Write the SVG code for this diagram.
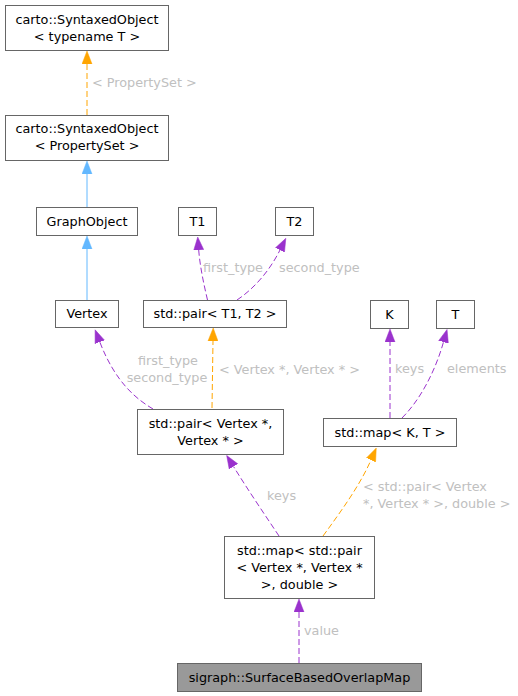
<svg xmlns="http://www.w3.org/2000/svg" width="518" height="696" viewBox="0 0 518 696">
<style>
.box{fill:#ffffff;stroke:#666666;stroke-width:1}
.cur{fill:#999999;stroke:#666666;stroke-width:1}
text{font-family:"DejaVu Sans",sans-serif;font-size:12.8px;fill:#000000}
.lbl{fill:#c0c0c0}
.mid{text-anchor:middle}
.e{fill:none;stroke-width:1}
.pu{stroke:#9a32cd;stroke-dasharray:6,3}
.or{stroke:#ffa500;stroke-dasharray:6,3}
.bl{stroke:#63b8ff}
</style>
<defs>
<marker id="aPu" markerUnits="userSpaceOnUse" markerWidth="14" markerHeight="11" refX="0" refY="5.5" orient="auto" viewBox="0 0 14 11"><path d="M0,0.5 L13,5.5 L0,10.5 Z" fill="#9a32cd" stroke="#9a32cd" stroke-width="0.5"/></marker>
<marker id="aOr" markerUnits="userSpaceOnUse" markerWidth="14" markerHeight="11" refX="0" refY="5.5" orient="auto" viewBox="0 0 14 11"><path d="M0,0.5 L13,5.5 L0,10.5 Z" fill="#ffa500" stroke="#ffa500" stroke-width="0.5"/></marker>
<marker id="aBl" markerUnits="userSpaceOnUse" markerWidth="14" markerHeight="11" refX="0" refY="5.5" orient="auto" viewBox="0 0 14 11"><path d="M0,0.5 L13,5.5 L0,10.5 Z" fill="#63b8ff" stroke="#63b8ff" stroke-width="0.5"/></marker>
</defs>
<g id="edges">
<path class="e or" d="M87,115 L87,64" marker-end="url(#aOr)"/>
<text class="lbl" x="92" y="86.5">&lt; PropertySet &gt;</text>
<path class="e bl" d="M87,207 L87,174" marker-end="url(#aBl)"/>
<path class="e bl" d="M87,300 L87,249" marker-end="url(#aBl)"/>
<path class="e pu" d="M207.5,300 C204,285 200,267 198.7,250" marker-end="url(#aPu)"/>
<text class="lbl" x="203" y="272">first_type</text>
<path class="e pu" d="M237,300 C255,288 270,270 280,250" marker-end="url(#aPu)"/>
<text class="lbl" x="279" y="272">second_type</text>
<path class="e pu" d="M153,409 C138,400 116,384 99.8,342" marker-end="url(#aPu)"/>
<text class="lbl mid" x="168" y="365">first_type</text>
<text class="lbl mid" x="167" y="382">second_type</text>
<path class="e or" d="M212,408 L213,341" marker-end="url(#aOr)"/>
<text class="lbl" x="219" y="373.5">&lt; Vertex *, Vertex * &gt;</text>
<path class="e pu" d="M390,418 L390,342" marker-end="url(#aPu)"/>
<text class="lbl" x="395" y="373">keys</text>
<path class="e pu" d="M402,418 C420,400 435,372 443.5,342" marker-end="url(#aPu)"/>
<text class="lbl" x="447" y="373">elements</text>
<path class="e pu" d="M279,536 C265,515 248,490 233.5,466.5" marker-end="url(#aPu)"/>
<text class="lbl" x="267" y="500">keys</text>
<path class="e or" d="M323,536 C342,510 360,485 371,460" marker-end="url(#aOr)"/>
<text class="lbl" x="363" y="491">&lt; std::pair&lt; Vertex</text>
<text class="lbl" x="363" y="508">*, Vertex * &gt;, double &gt;</text>
<path class="e pu" d="M299,663 L299,612" marker-end="url(#aPu)"/>
<text class="lbl" x="304" y="635">value</text>
</g>
<g id="node_syntaxedT">
<rect class="box" x="5.5" y="5.5" width="163" height="45"/>
<text class="mid" x="87" y="23.5">carto::SyntaxedObject</text>
<text class="mid" x="87" y="40.5">&lt; typename T &gt;</text>
</g>
<g id="node_syntaxedPS">
<rect class="box" x="5.5" y="115.5" width="163" height="45"/>
<text class="mid" x="87" y="133">carto::SyntaxedObject</text>
<text class="mid" x="87" y="150">&lt; PropertySet &gt;</text>
</g>
<g id="node_graphobject">
<rect class="box" x="36.5" y="207.5" width="101" height="28"/>
<text class="mid" x="87" y="225.5">GraphObject</text>
</g>
<g id="node_vertex">
<rect class="box" x="55.5" y="300.5" width="63" height="27"/>
<text class="mid" x="87" y="318">Vertex</text>
</g>
<g id="node_T1">
<rect class="box" x="178.5" y="207.5" width="38" height="28"/>
<text class="mid" x="197.5" y="225.5">T1</text>
</g>
<g id="node_T2">
<rect class="box" x="275.5" y="207.5" width="38" height="28"/>
<text class="mid" x="294.5" y="225.5">T2</text>
</g>
<g id="node_pairT">
<rect class="box" x="143.5" y="300.5" width="143" height="27"/>
<text class="mid" x="215" y="318">std::pair&lt; T1, T2 &gt;</text>
</g>
<g id="node_K">
<rect class="box" x="370.5" y="300.5" width="38" height="28"/>
<text class="mid" x="389.5" y="318.5">K</text>
</g>
<g id="node_T">
<rect class="box" x="436.5" y="300.5" width="38" height="28"/>
<text class="mid" x="455.5" y="318.5">T</text>
</g>
<g id="node_mapKT">
<rect class="box" x="323.5" y="418.5" width="133" height="28"/>
<text class="mid" x="390" y="436.5">std::map&lt; K, T &gt;</text>
</g>
<g id="node_pairV">
<rect class="box" x="137.5" y="409.5" width="146" height="45"/>
<text class="mid" x="210.5" y="427.5">std::pair&lt; Vertex *,</text>
<text class="mid" x="210.5" y="445">Vertex * &gt;</text>
</g>
<g id="node_bigmap">
<rect class="box" x="224.5" y="536.5" width="150" height="62"/>
<text class="mid" x="299.5" y="555">std::map&lt; std::pair</text>
<text class="mid" x="299.5" y="572">&lt; Vertex *, Vertex *</text>
<text class="mid" x="299.5" y="588.5">&gt;, double &gt;</text>
</g>
<g id="node_sigraph">
<rect class="cur" x="177.5" y="663.5" width="244" height="28"/>
<text class="mid" x="299.5" y="681.5">sigraph::SurfaceBasedOverlapMap</text>
</g>
</svg>
